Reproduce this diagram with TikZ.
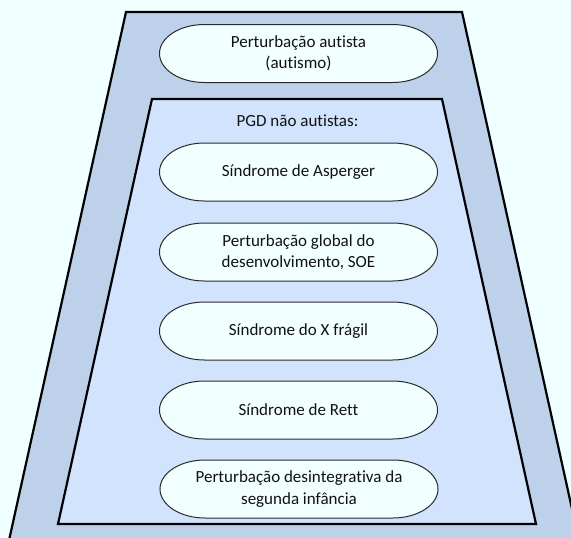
\documentclass[tikz,border=0pt]{standalone}
\usepackage{fontspec}
\setmainfont{Carlito}[Ligatures={NoCommon}]
\definecolor{bgcol}{HTML}{F0FFFF}
\definecolor{outercol}{HTML}{BED1EB}
\definecolor{innercol}{HTML}{D2E4FD}
\definecolor{capfill}{HTML}{F2FFFF}
\definecolor{capline}{HTML}{2A2A2A}
\definecolor{txtcol}{HTML}{111111}

\tikzset{
  trapezium outline/.style={draw=black, line width=2.2pt, line join=miter},
  capsule/.style={fill=capfill, draw=capline, line width=1pt},
  captext/.style={text=txtcol, font=\fontsize{17}{21.5}\selectfont, align=center, inner sep=0pt},
}

% capsule with elliptic ends, then its label on top
\newcommand\capsulenode[3]{%
  \path[capsule] (#2) ++(-94pt,29pt) -- ++(188pt,0pt)
    arc[start angle=90, end angle=-90, x radius=45pt, y radius=29pt]
    -- ++(-188pt,0pt)
    arc[start angle=270, end angle=90, x radius=45pt, y radius=29pt] -- cycle;
  \node[captext] (#1) at (#2) {#3};
}

\begin{document}
\begin{tikzpicture}[x=1pt, y=-1pt]
  \useasboundingbox (0,0) rectangle (571,538);
  \fill[bgcol] (0,0) rectangle (571,538);
  \clip (0,0) rectangle (571,538);

  % outer frame (runs off the bottom edge)
  \path[trapezium outline, fill=outercol]
    (126,12) -- (462,12) -- (592.2,600) -- (-4.2,600) -- cycle;

  % inner frame
  \path[trapezium outline, fill=innercol]
    (152,99) -- (442,99) -- (536,524) -- (58,524) -- cycle;

  \capsulenode{autismo}{298.5,53.5}{Perturbação autista\\(autismo)}

  \node[captext] (pgd) at (297.5,121) {PGD não autistas:};

  \capsulenode{asperger}{298.5,172}{Síndrome de Asperger}
  \capsulenode{soe}{298.5,252}{Perturbação global do\\desenvolvimento, SOE}
  \capsulenode{xfragil}{298.5,331}{Síndrome do X frágil}
  \capsulenode{rett}{298.5,410}{Síndrome de Rett}
  \capsulenode{desint}{299,489}{Perturbação desintegrativa da\\segunda infância}
\end{tikzpicture}
\end{document}
